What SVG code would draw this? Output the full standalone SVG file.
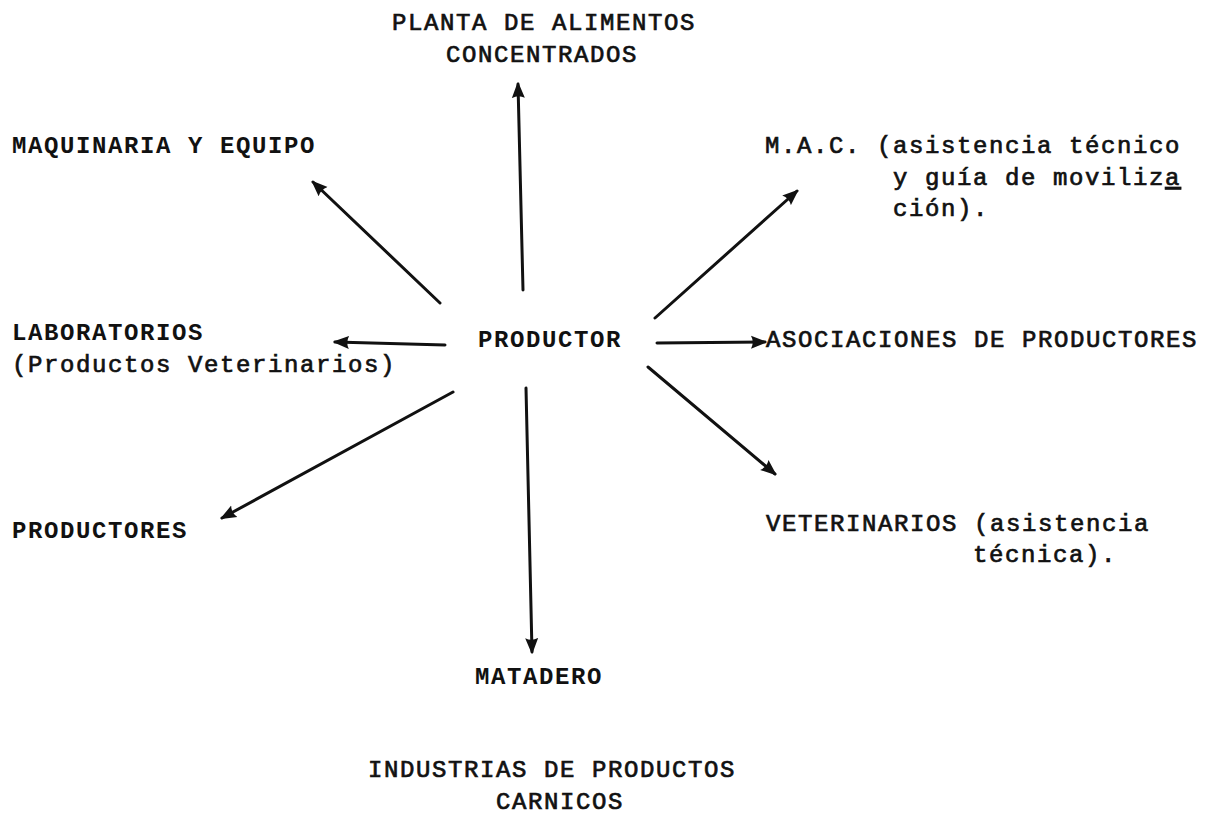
<svg xmlns="http://www.w3.org/2000/svg" width="1215" height="818" viewBox="0 0 1215 818">
<style>
text{font-family:"Liberation Mono","Courier New",monospace;font-size:24px;letter-spacing:1.6px;fill:#111}
.b{font-weight:bold}
.r{stroke:#111;stroke-width:0.7}
.c line{stroke:#111;stroke-width:3;stroke-linecap:round;marker-end:url(#ah)}
</style>
<defs>
<marker id="ah" viewBox="0 0 16 14" refX="14" refY="7" markerWidth="16" markerHeight="14" markerUnits="userSpaceOnUse" orient="auto">
<path d="M0,0.5 Q3.5,7 0,13.5 L15,7.6 Q16,7 15,6.4 Z" fill="#111"/>
</marker>
</defs>
<rect width="1215" height="818" fill="#fff"/>
<g id="planta"><text class="r" x="392" y="30">PLANTA DE ALIMENTOS</text><text class="r" x="446" y="62">CONCENTRADOS</text></g>
<g id="maquinaria"><text class="b" x="12" y="153">MAQUINARIA Y EQUIPO</text></g>
<g id="mac"><text class="r" x="765" y="153">M.A.C. (asistencia técnico</text><text class="r" x="893" y="185">y guía de moviliz<tspan text-decoration="underline">a</tspan></text><text class="r" x="893" y="216">ción).</text></g>
<g id="laboratorios"><text class="b" x="12" y="340">LABORATORIOS</text><text class="r" x="12" y="372">(Productos Veterinarios)</text></g>
<g id="productor"><text class="b" x="478" y="347">PRODUCTOR</text></g>
<g id="asociaciones"><text class="r" x="766" y="347">ASOCIACIONES DE PRODUCTORES</text></g>
<g id="veterinarios"><text class="r" x="766" y="531">VETERINARIOS (asistencia</text><text class="r" x="973" y="562">técnica).</text></g>
<g id="productores"><text class="b" x="12" y="538">PRODUCTORES</text></g>
<g id="matadero"><text class="b" x="475" y="684">MATADERO</text></g>
<g id="industrias"><text class="r" x="368" y="777">INDUSTRIAS DE PRODUCTOS</text><text class="r" x="496" y="809">CARNICOS</text></g>
<g id="connectors" class="c">
<line x1="523" y1="290" x2="518" y2="84"/>
<line x1="440" y1="303" x2="313" y2="182"/>
<line x1="655" y1="318" x2="797" y2="191"/>
<line x1="445" y1="345" x2="335" y2="342"/>
<line x1="657" y1="343" x2="765" y2="342"/>
<line x1="453" y1="392" x2="222" y2="518"/>
<line x1="526" y1="388" x2="532" y2="652"/>
<line x1="648" y1="367" x2="775" y2="474"/>
</g>
</svg>
